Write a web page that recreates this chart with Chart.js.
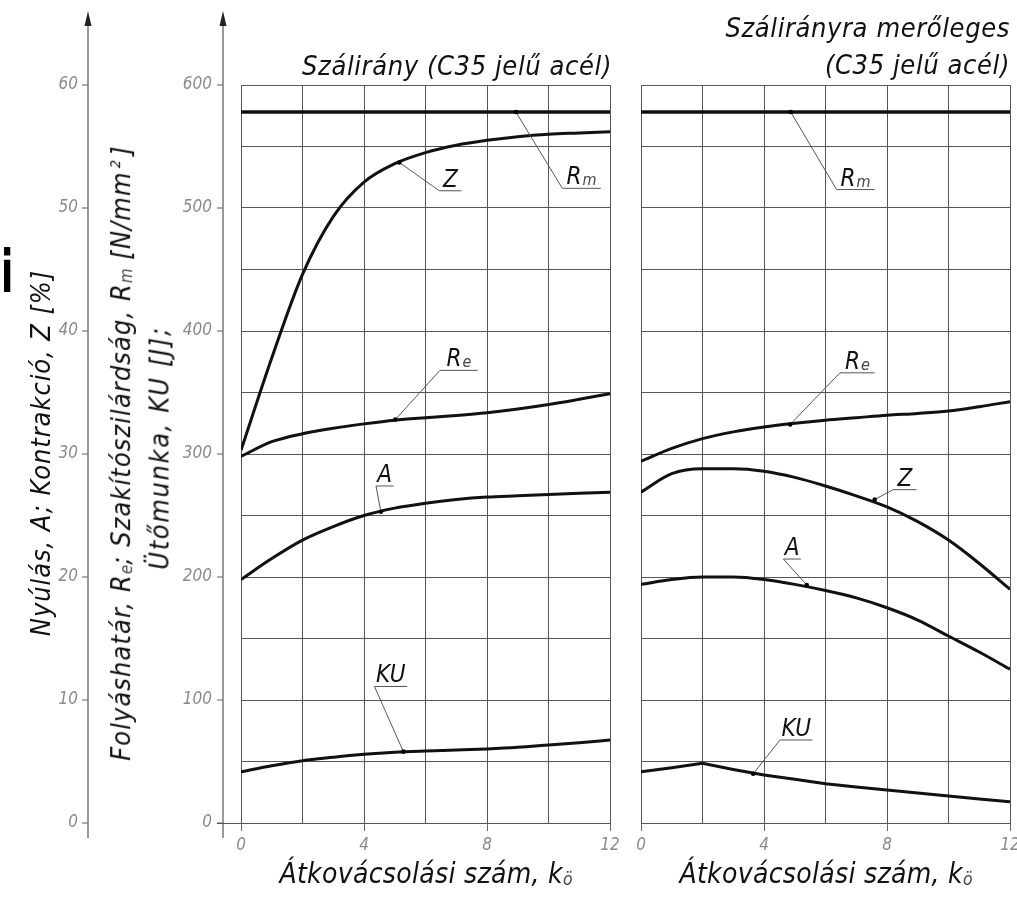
<!DOCTYPE html>
<html>
<head>
<meta charset="utf-8">
<script src="https://cdn.jsdelivr.net/npm/chart.js@4.4.0/dist/chart.umd.min.js"></script>
<style>
  body { margin: 0; width: 1017px; height: 898px; overflow: hidden; background: #fff; position: relative;
         font-family: 'DejaVu Sans Condensed', 'DejaVu Sans', sans-serif; font-style: italic; }
  #leftWrap  { position: absolute; left: 0;     top: 0; width: 625px; height: 898px; }
  #rightWrap { position: absolute; left: 625px; top: 0; width: 400px; height: 898px; }
  .t { position: absolute; white-space: nowrap; color: #111; font-size: 26px; line-height: 1; letter-spacing: 0.6px; }
  .rot { transform: translate(-50%, -50%) rotate(-90deg); font-size: 27px; letter-spacing: 1.05px; }
  .sub { font-size: 62%; color: #444; vertical-align: -0.12em; letter-spacing: 0; }
  .sup { font-size: 55%; vertical-align: 0.7em; margin: 0 3px; }
  .mark { position: absolute; left: 1px; top: 243px; font: bold 58px 'DejaVu Sans', sans-serif; line-height: 1;
          font-style: normal; color: #000; transform: scaleX(0.62); transform-origin: left top; }
</style>
</head>
<body>
<div id="leftWrap"><canvas id="leftChart"></canvas></div>
<div id="rightWrap"><canvas id="rightChart"></canvas></div>

<div class="mark">i</div>
<div class="t rot" style="left:40px; top:453px; letter-spacing:0.9px;">Nyúlás, A; Kontrakció, Z [%]</div>
<div class="t rot" style="left:121px; top:453px;">Folyáshatár, R<span class="sub">e</span>; Szakítószilárdság, R<span class="sub">m</span> [N/mm<span class="sup">2</span>]</div>
<div class="t rot" style="left:159px; top:448px; letter-spacing:1.6px;">Ütőmunka, KU [J];</div>

<div class="t" style="right:405px; top:52px; font-size:27px;">Szálirány (C35 jelű acél)</div>
<div class="t" style="right:7px; top:14px; font-size:27px; text-align:right; line-height:37px; margin-top:-5px;">Szálirányra merőleges<br>(C35 jelű acél)</div>

<div class="t" style="left:426px; top:860px; transform:translateX(-50%); font-size:28px; letter-spacing:0.3px;">Átkovácsolási szám, k<span class="sub">ö</span></div>
<div class="t" style="left:826px; top:860px; transform:translateX(-50%); font-size:28px; letter-spacing:0.3px;">Átkovácsolási szám, k<span class="sub">ö</span></div>

<script>
// ── Data ──
// x: Átkovácsolási szám (k_ö); strength values in N/mm², KU in J, A and Z in %
const kSteps = [0, 1, 2, 3, 4, 5, 6, 7, 8, 9, 10, 11, 12];
const kRm    = [0, 12];

// Szálirány (along the fibre)
const rmAlong = [578, 578];
const reAlong = [298, 310, 316.5, 321, 324.5, 327.5, 329.5, 331.3, 333.5, 336.5, 340.2, 344.5, 349];
const zAlong  = [30.3, 37.8, 44.6, 49.3, 52.1, 53.6, 54.5, 55.1, 55.5, 55.8, 56.0, 56.1, 56.2];
const aAlong  = [19.8, 21.5, 23.0, 24.1, 25.0, 25.6, 26.0, 26.3, 26.5, 26.6, 26.7, 26.8, 26.9];
const kuAlong = [41.7, 46.6, 50.7, 53.4, 55.8, 57.5, 58.5, 59.3, 60.2, 61.5, 63.4, 65.3, 67.5];

// Szálirányra merőleges (across the fibre)
const rmAcross = [578, 578];
const reAcross = [294, 304.5, 312.5, 318, 322, 325, 327.5, 329.5, 331.5, 333, 335, 338.5, 342.5];
const zAcross  = [26.9, 28.4, 28.8, 28.8, 28.6, 28.1, 27.4, 26.6, 25.7, 24.5, 23.0, 21.1, 19.0];
const aAcross  = [19.4, 19.8, 20.0, 20.0, 19.8, 19.4, 18.9, 18.3, 17.5, 16.5, 15.2, 13.9, 12.5];
const kuAcross = [41.7, 45.0, 48.5, 43.5, 39.0, 35.5, 32.0, 29.3, 26.8, 24.3, 22.0, 19.6, 17.3];

// Tick labels
const xTickLabels   = [0, 4, 8, 12];
const pctTickLabels = [0, 10, 20, 30, 40, 50, 60];
const nmmTickLabels = [0, 100, 200, 300, 400, 500, 600];

// ── Label callouts (data coords: [k, N/mm² scale]) ──
const leadersAlong = [
    { txt: 'R', sub: 'm', dot: [8.94, 578], elbow: [10.45, 516], end: 11.7 },
    { txt: 'Z',           dot: [5.15, 537], elbow: [6.45, 514],  end: 7.17 },
    { txt: 'R', sub: 'e', dot: [5.02, 328], elbow: [6.47, 368],  end: 7.7 },
    { txt: 'A',           dot: [4.55, 253], elbow: [4.39, 274],  end: 4.96 },
    { txt: 'KU',          dot: [5.28, 58],  elbow: [4.34, 111],  end: 5.4 },
];
const leadersAcross = [
    { txt: 'R', sub: 'm', dot: [4.87, 578],   elbow: [6.36, 515],   end: 7.6 },
    { txt: 'R', sub: 'e', dot: [4.85, 324],   elbow: [6.47, 366],   end: 7.6 },
    { txt: 'Z',           dot: [7.6, 263],    elbow: [8.2, 271],    end: 8.96 },
    { txt: 'A',           dot: [5.39, 193.5], elbow: [4.63, 214.6], end: 5.2 },
    { txt: 'KU',          dot: [3.65, 40],    elbow: [4.52, 67.5],  end: 5.58 },
];

const FONT = "'DejaVu Sans Condensed', 'DejaVu Sans', sans-serif";
const GRID = '#555';
const TICK_TXT = '#8a8a8a';

function pts(xs, ys) { return xs.map((x, i) => ({ x, y: ys[i] })); }

function curve(xs, ys, axis, extra) {
    return Object.assign({
        data: pts(xs, ys),
        yAxisID: axis,
        borderColor: '#111',
        borderWidth: 3,
        pointRadius: 0,
        cubicInterpolationMode: 'monotone',
        fill: false
    }, extra || {});
}

// ── Callout plugin: dot on the curve, thin leader, underline and italic label ──
const leaderPlugin = {
    id: 'leaders',
    afterDatasetsDraw(chart, args, opts) {
        const { ctx } = chart;
        const xs = chart.scales.x, ys = chart.scales.nmm;
        ctx.save();
        opts.items.forEach(it => {
            const dx = xs.getPixelForValue(it.dot[0]), dy = ys.getPixelForValue(it.dot[1]);
            const ex = xs.getPixelForValue(it.elbow[0]), ey = ys.getPixelForValue(it.elbow[1]);
            const ux = xs.getPixelForValue(it.end);
            ctx.strokeStyle = '#555';
            ctx.lineWidth = 1;
            ctx.beginPath();
            ctx.moveTo(dx, dy); ctx.lineTo(ex, ey); ctx.lineTo(ux, ey);
            ctx.stroke();
            ctx.fillStyle = '#000';
            ctx.beginPath(); ctx.arc(dx, dy, 2.3, 0, Math.PI * 2); ctx.fill();

            // label centred over the underline
            ctx.font = 'italic 24px ' + FONT;
            const w1 = ctx.measureText(it.txt).width;
            ctx.font = 'italic 16px ' + FONT;
            const w2 = it.sub ? ctx.measureText(it.sub).width + 1 : 0;
            const x0 = (ex + ux) / 2 - (w1 + w2) / 2;
            ctx.textBaseline = 'alphabetic';
            ctx.textAlign = 'left';
            ctx.font = 'italic 24px ' + FONT;
            ctx.fillStyle = '#111';
            ctx.fillText(it.txt, x0, ey - 4);
            if (it.sub) {
                ctx.font = 'italic 16px ' + FONT;
                ctx.fillStyle = '#444';
                ctx.fillText(it.sub, x0 + w1 + 1, ey - 3);
            }
        });
        ctx.restore();
    }
};

// ── Axis plugin: the two free-standing y axes with arrows and tick marks ──
const axisPlugin = {
    id: 'freeAxes',
    afterDraw(chart) {
        const { ctx, chartArea } = chart;
        const pct = chart.scales.pct, nmm = chart.scales.nmm;
        const y0 = nmm.getPixelForValue(0);
        ctx.save();
        [[pct.right, pct, pctTickLabels], [nmm.right - 18, nmm, nmmTickLabels]].forEach(([x, sc, ticks]) => {
            ctx.strokeStyle = '#777';
            ctx.lineWidth = 1.5;
            ctx.beginPath(); ctx.moveTo(x, 22); ctx.lineTo(x, y0 + 15); ctx.stroke();
            ctx.fillStyle = '#222';
            ctx.beginPath(); ctx.moveTo(x, 11); ctx.lineTo(x - 3.5, 26); ctx.lineTo(x + 3.5, 26); ctx.closePath(); ctx.fill();
            ctx.lineWidth = 1.2;
            ticks.forEach(v => {
                const y = sc.getPixelForValue(v);
                ctx.beginPath(); ctx.moveTo(x - 6, y); ctx.lineTo(x, y); ctx.stroke();
            });
        });
        // base line of the panel runs out to the N/mm² axis
        ctx.strokeStyle = GRID;
        ctx.lineWidth = 1;
        ctx.beginPath(); ctx.moveTo(nmm.right - 24, y0 + 0.5); ctx.lineTo(chartArea.left, y0 + 0.5); ctx.stroke();
        ctx.restore();
    }
};

function xScale() {
    return {
        type: 'linear', min: 0, max: 12,
        afterFit: s => { s.height = 40; },
        border: { display: false },
        grid: {
            color: GRID, lineWidth: 1, tickLength: 8,
            tickColor: c => (c.tick && xTickLabels.includes(c.tick.value)) ? '#666' : 'rgba(0,0,0,0)'
        },
        ticks: {
            stepSize: 2, padding: 4, maxRotation: 0, autoSkip: false,
            color: TICK_TXT, font: { family: FONT, size: 17, style: 'italic' },
            callback: v => xTickLabels.includes(v) ? v : ''
        }
    };
}

function buildChart(id, datasets, leaders, showAxes) {
    const scales = {
        x: xScale(),
        nmm: {
            type: 'linear', position: 'left', min: 0, max: 600, weight: 0,
            afterFit: s => { s.width = showAxes ? 153 : 0; },
            border: { display: false },
            grid: { color: GRID, lineWidth: 1, drawTicks: false },
            ticks: {
                display: showAxes, stepSize: 50, padding: 29,
                color: TICK_TXT, font: { family: FONT, size: 17, style: 'italic' },
                callback: v => nmmTickLabels.includes(v) ? v : ''
            }
        },
        pct: {
            type: 'linear', position: 'left', min: 0, max: 60, weight: 1,
            display: showAxes,
            afterFit: s => { s.width = showAxes ? 88 : 0; },
            border: { display: false },
            grid: { drawOnChartArea: false, drawTicks: false },
            ticks: {
                stepSize: 10, padding: 10,
                color: TICK_TXT, font: { family: FONT, size: 17, style: 'italic' }
            }
        }
    };
    return new Chart(document.getElementById(id), {
        type: 'line',
        data: { datasets },
        options: {
            responsive: true,
            maintainAspectRatio: false,
            animation: false,
            layout: { padding: showAxes ? { top: 85, bottom: 35, left: 0, right: 15 }
                                        : { top: 85, bottom: 35, left: 16, right: 15 } },
            plugins: { legend: { display: false }, tooltip: { enabled: false }, leaders: { items: leaders } },
            scales
        },
        plugins: showAxes ? [leaderPlugin, axisPlugin] : [leaderPlugin]
    });
}

document.addEventListener('DOMContentLoaded', () => {
    buildChart('leftChart', [
        curve(kRm, rmAlong, 'nmm', { borderWidth: 3.5, cubicInterpolationMode: 'default', tension: 0 }),
        curve(kSteps, zAlong, 'pct'),
        curve(kSteps, reAlong, 'nmm'),
        curve(kSteps, aAlong, 'pct'),
        curve(kSteps, kuAlong, 'nmm')
    ], leadersAlong, true);

    buildChart('rightChart', [
        curve(kRm, rmAcross, 'nmm', { borderWidth: 3.5, cubicInterpolationMode: 'default', tension: 0 }),
        curve(kSteps, reAcross, 'nmm'),
        curve(kSteps, zAcross, 'pct'),
        curve(kSteps, aAcross, 'pct'),
        curve(kSteps, kuAcross, 'nmm', { cubicInterpolationMode: 'default', tension: 0 })
    ], leadersAcross, false);
});
</script>
</body>
</html>
